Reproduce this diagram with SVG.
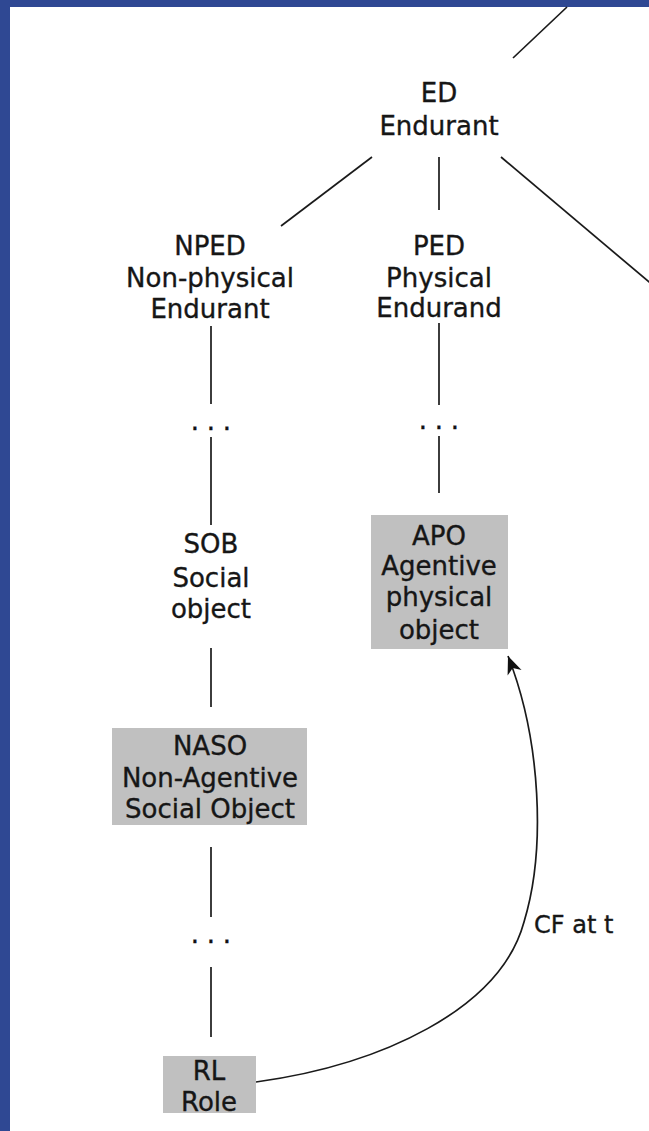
<svg xmlns="http://www.w3.org/2000/svg" width="649" height="1131" viewBox="0 0 649 1131">
<style>
  .lbl { font-family: "DejaVu Sans", Verdana, sans-serif; font-size: 26px; fill: #161616; stroke: #161616; stroke-width: 0.35; text-anchor: middle; }
  .dots { font-family: "DejaVu Sans", sans-serif; font-size: 26px; fill: #111; stroke: #111; stroke-width: 0.4; text-anchor: middle; }
  .edge { stroke: #1a1a1a; stroke-width: 1.7; fill: none; }
  .box { fill: #c0c0c0; }
  .elbl { font-family: "DejaVu Sans", Verdana, sans-serif; font-size: 24px; fill: #161616; stroke: #161616; stroke-width: 0.35; }
</style>
<defs>
  <marker id="arrow" markerUnits="userSpaceOnUse" markerWidth="20" markerHeight="16" refX="18" refY="8" orient="auto" viewBox="0 0 20 16">
    <path d="M0,0.5 L18,8 L0,15.5 L5,8 Z" fill="#111"/>
  </marker>
</defs>
<rect x="0" y="0" width="649" height="1131" fill="#ffffff"/>
<g id="frame">
  <rect x="0" y="0" width="10" height="1131" fill="#2f4893"/>
  <rect x="0" y="0" width="649" height="7" fill="#2f4893"/>
</g>
<g id="connectors">
  <line class="edge" x1="567" y1="7" x2="513" y2="58"/>
  <line class="edge" x1="372" y1="157" x2="281" y2="226"/>
  <line class="edge" x1="439" y1="157" x2="439" y2="210"/>
  <line class="edge" x1="501" y1="157" x2="655" y2="287"/>
  <line class="edge" x1="211" y1="326" x2="211" y2="404"/>
  <line class="edge" x1="211" y1="437" x2="211" y2="525"/>
  <line class="edge" x1="211" y1="648" x2="211" y2="707"/>
  <line class="edge" x1="211" y1="847" x2="211" y2="917"/>
  <line class="edge" x1="211" y1="967" x2="211" y2="1037"/>
  <line class="edge" x1="439" y1="323" x2="439" y2="405"/>
  <line class="edge" x1="439" y1="436" x2="439" y2="493"/>
  <path class="edge" d="M256,1082 C380,1065 500,1010 524,922 C546,850 541,740 508,656" marker-end="url(#arrow)"/>
  <text class="elbl" x="534" y="933">CF at t</text>
  <text class="dots" x="195 211 227" y="430">...</text>
  <text class="dots" x="423 439 455" y="429">...</text>
  <text class="dots" x="195 211 227" y="943">...</text>
</g>
<g id="ED">
  <text class="lbl" x="439" y="102">ED</text>
  <text class="lbl" x="439" y="135">Endurant</text>
</g>
<g id="NPED">
  <text class="lbl" x="210" y="255">NPED</text>
  <text class="lbl" x="210" y="287">Non-physical</text>
  <text class="lbl" x="210" y="318">Endurant</text>
</g>
<g id="PED">
  <text class="lbl" x="439" y="255">PED</text>
  <text class="lbl" x="439" y="287">Physical</text>
  <text class="lbl" x="439" y="317">Endurand</text>
</g>
<g id="SOB">
  <text class="lbl" x="211" y="553">SOB</text>
  <text class="lbl" x="211" y="587">Social</text>
  <text class="lbl" x="211" y="618">object</text>
</g>
<g id="APO">
  <rect class="box" x="371" y="515" width="137" height="134"/>
  <text class="lbl" x="439" y="545">APO</text>
  <text class="lbl" x="439" y="575">Agentive</text>
  <text class="lbl" x="439" y="606">physical</text>
  <text class="lbl" x="439" y="639">object</text>
</g>
<g id="NASO">
  <rect class="box" x="112" y="728" width="195" height="97"/>
  <text class="lbl" x="210" y="755">NASO</text>
  <text class="lbl" x="210" y="787">Non-Agentive</text>
  <text class="lbl" x="210" y="818">Social Object</text>
</g>
<g id="RL">
  <rect class="box" x="163" y="1056" width="93" height="57"/>
  <text class="lbl" x="209" y="1080">RL</text>
  <text class="lbl" x="209" y="1111">Role</text>
</g>
</svg>
